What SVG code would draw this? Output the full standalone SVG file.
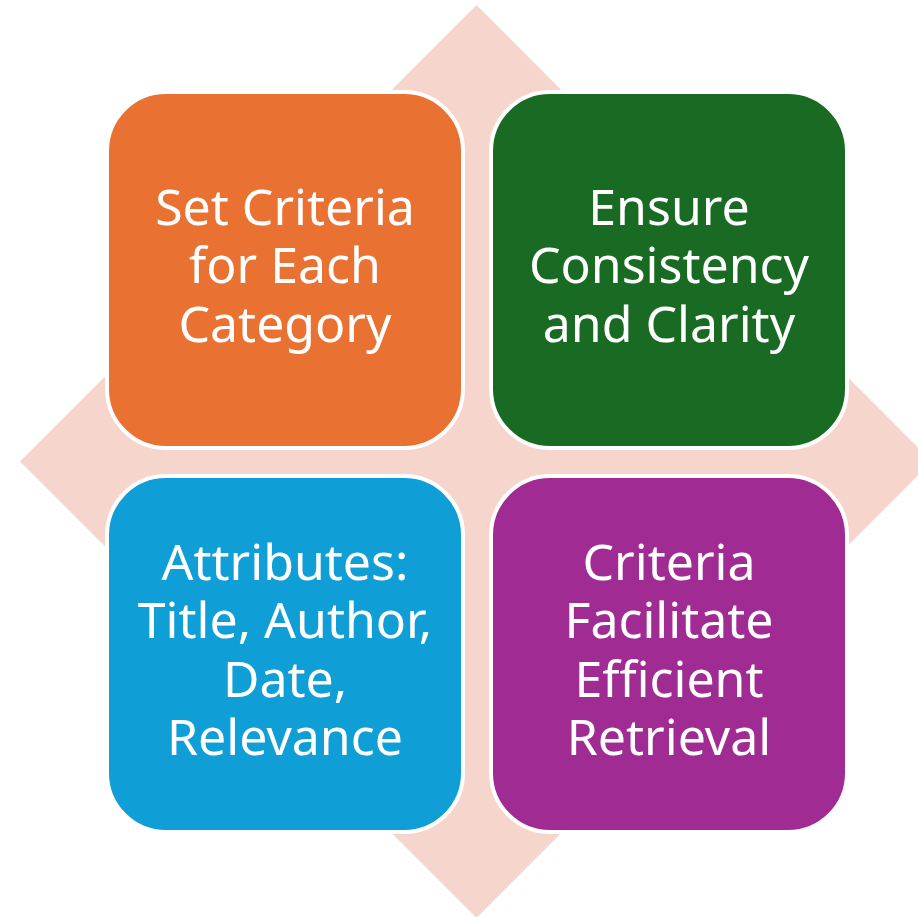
<svg xmlns="http://www.w3.org/2000/svg" width="918" height="917" viewBox="0 0 918 917">
  <style>
    .box { stroke: #FFFFFF; stroke-width: 4; }
    .label { font-family: "Noto Sans", "Open Sans", sans-serif; font-size: 50px; fill: #FFFFFF; text-anchor: middle; }
  </style>
  <rect width="918" height="917" fill="#FFFFFF"/>

  <!-- background diamond -->
  <g id="backdrop">
    <polygon points="476.5,5 932,461.5 476.5,918 20,461.5" fill="#F6D5CD"/>
  </g>

  <g id="connectors"></g>

  <g id="node-criteria">
    <rect class="box" x="107" y="92" width="356" height="356" rx="59" fill="#E97132"/>
    <text class="label" x="285" y="225"><tspan x="285">Set Criteria</tspan><tspan x="285" dy="58.3">for Each</tspan><tspan x="285" dy="58.3">Category</tspan></text>
  </g>

  <g id="node-consistency">
    <rect class="box" x="491" y="92" width="356" height="356" rx="59" fill="#196B24"/>
    <text class="label" x="669" y="225"><tspan x="669">Ensure</tspan><tspan x="669" dy="58.3">Consistency</tspan><tspan x="669" dy="58.3">and Clarity</tspan></text>
  </g>

  <g id="node-attributes">
    <rect class="box" x="107" y="476" width="356" height="356" rx="59" fill="#0F9ED5"/>
    <text class="label" x="285" y="580"><tspan x="285">Attributes:</tspan><tspan x="285" dy="58.3">Title, Author,</tspan><tspan x="285" dy="58.3">Date,</tspan><tspan x="285" dy="58.3">Relevance</tspan></text>
  </g>

  <g id="node-retrieval">
    <rect class="box" x="491" y="476" width="356" height="356" rx="59" fill="#A02B93"/>
    <text class="label" x="669" y="580"><tspan x="669">Criteria</tspan><tspan x="669" dy="58.3">Facilitate</tspan><tspan x="669" dy="58.3">Efficient</tspan><tspan x="669" dy="58.3">Retrieval</tspan></text>
  </g>
</svg>
